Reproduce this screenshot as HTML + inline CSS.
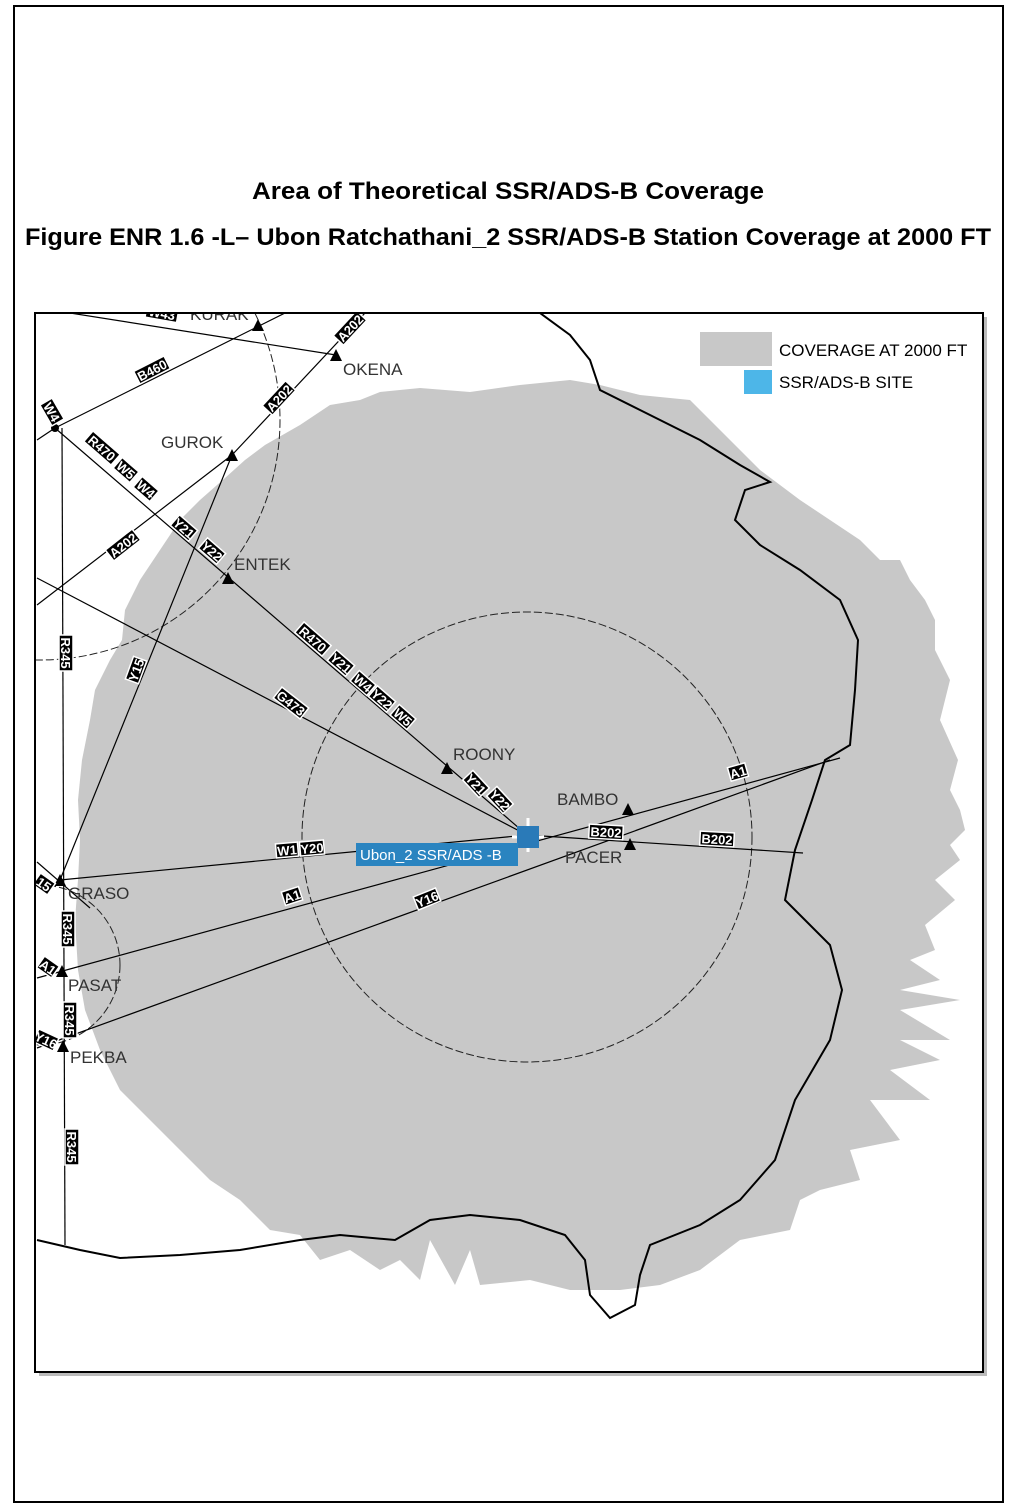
<!DOCTYPE html>
<html><head><meta charset="utf-8"><style>
html,body{margin:0;padding:0;background:#fff;}
svg{display:block;}
text{font-family:"Liberation Sans",sans-serif;}
.lb rect{fill:#000;stroke:#fff;stroke-width:1.5}
.lb text{fill:#fff;font-size:13px;font-weight:bold}
.wp{font-size:17px;fill:#333}
</style></head><body>
<svg width="1016" height="1512" viewBox="0 0 1016 1512" xmlns="http://www.w3.org/2000/svg">
<rect x="0" y="0" width="1016" height="1512" fill="#fff"/>
<rect x="14" y="6" width="989" height="1496" fill="none" stroke="#000" stroke-width="2"/>
<text x="508" y="199" text-anchor="middle" font-size="24" font-weight="bold" textLength="512" lengthAdjust="spacingAndGlyphs">Area of Theoretical SSR/ADS-B Coverage</text>
<text x="508" y="245" text-anchor="middle" font-size="24" font-weight="bold" textLength="966" lengthAdjust="spacingAndGlyphs">Figure ENR 1.6 -L– Ubon Ratchathani_2 SSR/ADS-B Station Coverage at 2000 FT</text>
<rect x="39" y="317" width="948" height="1059" fill="#bbb"/>
<rect x="35" y="313" width="948" height="1059" fill="#fff" stroke="#000" stroke-width="2"/>
<svg x="36" y="314" width="946" height="1057" viewBox="36 314 946 1057">
<polygon fill="#c8c8c8" points="265,445 300,425 330,405 360,400 380,392 420,388 470,392 520,385 570,380 600,385 640,395 690,400 720,430 760,470 800,500 830,520 860,540 880,560 900,560 910,580 925,600 935,620 935,650 950,680 945,700 940,720 958,760 950,790 960,810 965,830 950,845 960,860 935,880 955,900 925,925 935,950 910,960 940,980 900,990 960,1000 900,1010 950,1040 900,1040 940,1060 890,1070 930,1100 870,1100 900,1140 850,1150 860,1180 820,1190 800,1200 790,1230 740,1240 700,1270 660,1285 620,1290 570,1290 530,1280 480,1285 470,1250 455,1285 430,1240 420,1280 400,1260 380,1270 350,1250 320,1260 300,1235 270,1230 240,1200 210,1180 180,1150 150,1120 120,1090 100,1050 85,1010 78,970 75,920 78,880 80,840 78,800 82,760 90,720 95,690 110,660 122,640 125,610 140,580 160,550 180,520 200,500 225,478 245,460"/>
<circle cx="527" cy="837" r="225" fill="none" stroke="#222" stroke-width="1" stroke-dasharray="8,3"/>
<circle cx="40" cy="420" r="240" fill="none" stroke="#222" stroke-width="1" stroke-dasharray="8,3"/>
<circle cx="40" cy="965" r="80" fill="none" stroke="#222" stroke-width="1" stroke-dasharray="8,3"/>
<polyline fill="none" stroke="#000" stroke-width="2" points="540,313 570,335 590,360 600,390 640,410 700,440 740,465 770,482 745,490 735,520 760,545 800,570 840,600 858,640 855,690 850,745 825,760 812,800 795,850 785,900 830,945 842,990 830,1040 795,1100 775,1160 740,1200 700,1225 650,1245 640,1275 635,1305 610,1318 590,1295 585,1260 565,1235 520,1220 470,1215 430,1220 395,1240 340,1235 300,1240 240,1250 180,1255 120,1258 80,1250 37,1240"/>
<g stroke="#000" stroke-width="1.2" fill="none">
<line x1="70" y1="313" x2="336" y2="355"/>
<line x1="55" y1="428" x2="285" y2="313"/>
<line x1="37" y1="605" x2="232" y2="455"/>
<line x1="232" y1="455" x2="365" y2="313"/>
<line x1="55" y1="428" x2="527" y2="835"/>
<line x1="37" y1="578" x2="527" y2="835"/>
<line x1="60" y1="880" x2="232" y2="455"/>
<line x1="62" y1="428" x2="65" y2="1245"/>
<line x1="60" y1="880" x2="527" y2="835"/>
<line x1="37" y1="978" x2="840" y2="758"/>
<line x1="37" y1="1048" x2="830" y2="760"/>
<line x1="527" y1="835" x2="803" y2="853"/>
<line x1="37" y1="862" x2="90" y2="908"/>
<line x1="37" y1="440" x2="55" y2="428"/>
</g>
<g fill="#000">
<polygon points="258,319 252,331 264,331"/>
<polygon points="336,349 330,361 342,361"/>
<polygon points="232,449 226,461 238,461"/>
<polygon points="228,572 222,584 234,584"/>
<polygon points="447,762 441,774 453,774"/>
<polygon points="628,803 622,815 634,815"/>
<polygon points="630,838 624,850 636,850"/>
<polygon points="60,874 54,886 66,886"/>
<polygon points="62,965 56,977 68,977"/>
<polygon points="63,1040 57,1052 69,1052"/>
<circle cx="55" cy="428" r="4"/>
</g>
<g class="wp">
<text x="190" y="320">KURAK</text>
<text x="343" y="375">OKENA</text>
<text x="161" y="448">GUROK</text>
<text x="234" y="570">ENTEK</text>
<text x="453" y="760">ROONY</text>
<text x="557" y="805">BAMBO</text>
<text x="565" y="863">PACER</text>
<text x="68" y="899">GRASO</text>
<text x="68" y="991">PASAT</text>
<text x="70" y="1063">PEKBA</text>
</g>
<g class="lb">
<g transform="translate(162,313) rotate(10)"><rect x="-16" y="-7" width="32" height="14"/><text x="0" y="5" text-anchor="middle">W43</text></g>
<g transform="translate(152,370) rotate(-27)"><rect x="-17" y="-7" width="34" height="14"/><text x="0" y="5" text-anchor="middle">B460</text></g>
<g transform="translate(350,328) rotate(-47)"><rect x="-17" y="-7" width="34" height="14"/><text x="0" y="5" text-anchor="middle">A202</text></g>
<g transform="translate(279,398) rotate(-47)"><rect x="-17" y="-7" width="34" height="14"/><text x="0" y="5" text-anchor="middle">A202</text></g>
<g transform="translate(123,545) rotate(-38)"><rect x="-17" y="-7" width="34" height="14"/><text x="0" y="5" text-anchor="middle">A202</text></g>
<g transform="translate(52,412) rotate(60)"><rect x="-12" y="-7" width="24" height="14"/><text x="0" y="5" text-anchor="middle">W4</text></g>
<g transform="translate(102,448) rotate(41)"><rect x="-18" y="-7" width="36" height="14"/><text x="0" y="5" text-anchor="middle">R470</text></g>
<g transform="translate(126,470) rotate(41)"><rect x="-11" y="-7" width="22" height="14"/><text x="0" y="5" text-anchor="middle">W5</text></g>
<g transform="translate(146,489) rotate(41)"><rect x="-11" y="-7" width="22" height="14"/><text x="0" y="5" text-anchor="middle">W4</text></g>
<g transform="translate(184,528) rotate(41)"><rect x="-12" y="-7" width="24" height="14"/><text x="0" y="5" text-anchor="middle">Y21</text></g>
<g transform="translate(212,551) rotate(41)"><rect x="-12" y="-7" width="24" height="14"/><text x="0" y="5" text-anchor="middle">Y22</text></g>
<g transform="translate(313,639) rotate(41)"><rect x="-18" y="-7" width="36" height="14"/><text x="0" y="5" text-anchor="middle">R470</text></g>
<g transform="translate(341,663) rotate(41)"><rect x="-12" y="-7" width="24" height="14"/><text x="0" y="5" text-anchor="middle">Y21</text></g>
<g transform="translate(363,683) rotate(41)"><rect x="-11" y="-7" width="22" height="14"/><text x="0" y="5" text-anchor="middle">W4</text></g>
<g transform="translate(382,699) rotate(41)"><rect x="-12" y="-7" width="24" height="14"/><text x="0" y="5" text-anchor="middle">Y22</text></g>
<g transform="translate(403,717) rotate(41)"><rect x="-11" y="-7" width="22" height="14"/><text x="0" y="5" text-anchor="middle">W5</text></g>
<g transform="translate(476,784) rotate(47)"><rect x="-12" y="-7" width="24" height="14"/><text x="0" y="5" text-anchor="middle">Y21</text></g>
<g transform="translate(500,800) rotate(47)"><rect x="-12" y="-7" width="24" height="14"/><text x="0" y="5" text-anchor="middle">Y22</text></g>
<g transform="translate(291,703) rotate(38)"><rect x="-17" y="-7" width="34" height="14"/><text x="0" y="5" text-anchor="middle">G473</text></g>
<g transform="translate(136,670) rotate(-70)"><rect x="-12" y="-7" width="24" height="14"/><text x="0" y="5" text-anchor="middle">Y15</text></g>
<g transform="translate(66,653) rotate(90)"><rect x="-18" y="-7" width="36" height="14"/><text x="0" y="5" text-anchor="middle">R345</text></g>
<g transform="translate(68,929) rotate(90)"><rect x="-18" y="-7" width="36" height="14"/><text x="0" y="5" text-anchor="middle">R345</text></g>
<g transform="translate(70,1020) rotate(90)"><rect x="-18" y="-7" width="36" height="14"/><text x="0" y="5" text-anchor="middle">R345</text></g>
<g transform="translate(72,1147) rotate(90)"><rect x="-18" y="-7" width="36" height="14"/><text x="0" y="5" text-anchor="middle">R345</text></g>
<g transform="translate(287,850) rotate(-5)"><rect x="-11" y="-7" width="22" height="14"/><text x="0" y="5" text-anchor="middle">W1</text></g>
<g transform="translate(312,848) rotate(-5)"><rect x="-12" y="-7" width="24" height="14"/><text x="0" y="5" text-anchor="middle">Y20</text></g>
<g transform="translate(292,896) rotate(-18)"><rect x="-9" y="-7" width="18" height="14"/><text x="0" y="5" text-anchor="middle">A1</text></g>
<g transform="translate(48,967) rotate(35)"><rect x="-9" y="-7" width="18" height="14"/><text x="0" y="5" text-anchor="middle">A1</text></g>
<g transform="translate(46,1040) rotate(25)"><rect x="-11" y="-7" width="22" height="14"/><text x="0" y="5" text-anchor="middle">Y16</text></g>
<g transform="translate(44,884) rotate(35)"><rect x="-9" y="-7" width="18" height="14"/><text x="0" y="5" text-anchor="middle">15</text></g>
<g transform="translate(427,899) rotate(-22)"><rect x="-12" y="-7" width="24" height="14"/><text x="0" y="5" text-anchor="middle">Y16</text></g>
<g transform="translate(738,772) rotate(-16)"><rect x="-9" y="-7" width="18" height="14"/><text x="0" y="5" text-anchor="middle">A1</text></g>
<g transform="translate(606,832) rotate(3)"><rect x="-17" y="-7" width="34" height="14"/><text x="0" y="5" text-anchor="middle">B202</text></g>
<g transform="translate(717,839) rotate(3)"><rect x="-17" y="-7" width="34" height="14"/><text x="0" y="5" text-anchor="middle">B202</text></g>
</g>
<g stroke="#fff" stroke-width="3"><line x1="528" y1="818" x2="528" y2="852"/><line x1="512" y1="837" x2="544" y2="837"/></g>
<rect x="517" y="826" width="22" height="22" fill="#2a7ab8"/>
<rect x="356" y="843" width="162" height="23" fill="#2a84c0"/>
<text x="360" y="860" fill="#fff" font-size="15">Ubon_2 SSR/ADS -B</text>
<rect x="700" y="332" width="72" height="34" fill="#c8c8c8"/>
<text x="779" y="356" font-size="17" fill="#000">COVERAGE AT 2000 FT</text>
<rect x="744" y="370" width="28" height="24" fill="#4db6e8"/>
<text x="779" y="388" font-size="17" fill="#000">SSR/ADS-B SITE</text>
</svg>
</svg>
</body></html>
